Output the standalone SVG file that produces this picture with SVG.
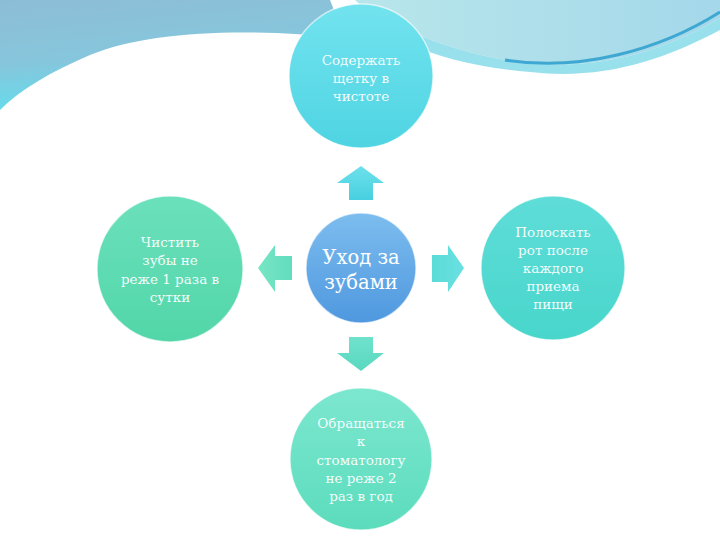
<svg xmlns="http://www.w3.org/2000/svg" width="720" height="540" viewBox="0 0 720 540">
<defs>
<linearGradient id="bgL" x1="0" y1="0" x2="0.3" y2="1"><stop offset="0" stop-color="#8dbdd6"/><stop offset="0.55" stop-color="#86c6dc"/><stop offset="1" stop-color="#5fe0ee"/></linearGradient>
<linearGradient id="bgR" x1="0" y1="0" x2="1" y2="0"><stop offset="0" stop-color="#b8e6ea"/><stop offset="1" stop-color="#a4d8ea"/></linearGradient>
<linearGradient id="gTop" x1="0" y1="0" x2="0" y2="1"><stop offset="0" stop-color="#72e3ef"/><stop offset="1" stop-color="#4fd4e2"/></linearGradient>
<linearGradient id="gLeft" x1="0" y1="0" x2="0" y2="1"><stop offset="0" stop-color="#6be0bc"/><stop offset="1" stop-color="#52d6a8"/></linearGradient>
<linearGradient id="gCen" x1="0" y1="0" x2="0" y2="1"><stop offset="0" stop-color="#7dbdef"/><stop offset="1" stop-color="#4f98df"/></linearGradient>
<linearGradient id="gRight" x1="0" y1="0" x2="0" y2="1"><stop offset="0" stop-color="#5fddd8"/><stop offset="1" stop-color="#48d6cb"/></linearGradient>
<linearGradient id="gBot" x1="0" y1="0" x2="0" y2="1"><stop offset="0" stop-color="#7ce7cf"/><stop offset="1" stop-color="#5cdcbc"/></linearGradient>
<linearGradient id="aUp" x1="0" y1="0" x2="0" y2="1"><stop offset="0" stop-color="#6ee0ec"/><stop offset="1" stop-color="#47d0e0"/></linearGradient>
<linearGradient id="aLeft" x1="0" y1="0" x2="1" y2="0"><stop offset="0" stop-color="#78e6c4"/><stop offset="1" stop-color="#62dcbf"/></linearGradient>
<linearGradient id="aRight" x1="0" y1="0" x2="1" y2="0"><stop offset="0" stop-color="#5adcd6"/><stop offset="1" stop-color="#6ae0e2"/></linearGradient>
<linearGradient id="aDown" x1="0" y1="0" x2="0" y2="1"><stop offset="0" stop-color="#6fe2cc"/><stop offset="1" stop-color="#5ad8c0"/></linearGradient>
</defs>
<style>
.t{font-family:"DejaVu Serif","Liberation Serif",serif;font-size:13.5px;fill:#ffffff;fill-opacity:0.95;text-anchor:middle}
.tc{font-family:"DejaVu Serif","Liberation Serif",serif;font-size:19.5px;fill:#ffffff;text-anchor:middle}
.node circle{stroke:#ffffff;stroke-opacity:0.6;stroke-width:1.5}
</style>
<rect width="720" height="540" fill="#ffffff"/>
<g id="background">
<path d="M0 0 H330 L345 38 C250 28 150 30 90 55 C50 72 20 90 0 110 Z" fill="url(#bgL)"/>
<path d="M355 0 H720 V18 C650 60 580 70 520 62 C470 56 430 40 400 28 C380 18 365 10 355 0 Z" fill="url(#bgR)"/>
<path d="M400 28 C430 40 470 56 520 62 C580 70 650 60 720 18 V30 C660 62 600 80 530 72 C480 68 440 58 410 44 Z" fill="#7fd8e8" opacity="0.8"/>
<path d="M505 60 C580 72 660 50 720 12" fill="none" stroke="#3ea8d2" stroke-width="3"/>
</g>
<g id="connectors">
<path d="M361 166 L384 183 L373 183 L373 200 L349 200 L349 183 L337 183 Z" fill="url(#aUp)"/>
<path d="M258 268 L275 245 L275 256 L292 256 L292 280 L275 280 L275 292 Z" fill="url(#aLeft)"/>
<path d="M464 268 L448 245 L448 255 L432 255 L432 282 L448 282 L448 292 Z" fill="url(#aRight)"/>
<path d="M361 371 L384 353 L373 353 L373 337 L349 337 L349 353 L337 353 Z" fill="url(#aDown)"/>
</g>
<g id="node-top" class="node">
<circle cx="361" cy="76" r="72" fill="url(#gTop)"/>
<text class="t" x="361" y="65">Содержать</text>
<text class="t" x="361" y="83">щетку в</text>
<text class="t" x="361" y="101">чистоте</text>
</g>
<g id="node-left" class="node">
<circle cx="170" cy="269" r="73" fill="url(#gLeft)"/>
<text class="t" x="170" y="247">Чистить</text>
<text class="t" x="170" y="265">зубы не</text>
<text class="t" x="170" y="284">реже 1 раза в</text>
<text class="t" x="170" y="302">сутки</text>
</g>
<g id="node-center" class="node">
<circle cx="361" cy="268" r="55" fill="url(#gCen)"/>
<text class="tc" x="361" y="264">Уход за</text>
<text class="tc" x="361" y="289">зубами</text>
</g>
<g id="node-right" class="node">
<circle cx="553" cy="268" r="72" fill="url(#gRight)"/>
<text class="t" x="553" y="237">Полоскать</text>
<text class="t" x="553" y="255">рот после</text>
<text class="t" x="553" y="273">каждого</text>
<text class="t" x="553" y="291">приема</text>
<text class="t" x="553" y="309">пищи</text>
</g>
<g id="node-bottom" class="node">
<circle cx="361" cy="459" r="71" fill="url(#gBot)"/>
<text class="t" x="361" y="428">Обращаться</text>
<text class="t" x="361" y="446">к</text>
<text class="t" x="361" y="465">стоматологу</text>
<text class="t" x="361" y="483">не реже 2</text>
<text class="t" x="361" y="501">раз в год</text>
</g>
</svg>
